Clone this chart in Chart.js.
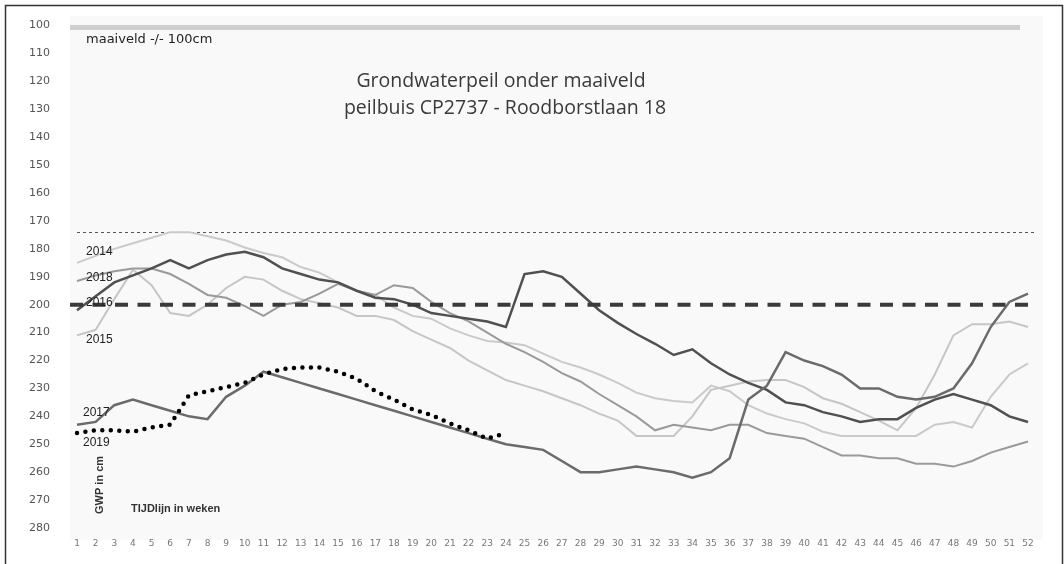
<!DOCTYPE html>
<html>
<head>
<meta charset="utf-8">
<script src="https://cdn.jsdelivr.net/npm/chart.js@4.4.1/dist/chart.umd.min.js"></script>
<style>
html,body{margin:0;padding:0;background:#fff;}
#wrap{width:1064px;height:564px;position:relative;}
</style>
</head>
<body>
<div id="wrap"><canvas id="myChart"></canvas></div>
<script>
const weeks = ['1','2','3','4','5','6','7','8','9','10','11','12','13','14','15','16','17','18','19','20',
  '21','22','23','24','25','26','27','28','29','30','31','32','33','34','35','36','37','38','39','40',
  '41','42','43','44','45','46','47','48','49','50','51','52'];

// grondwaterpeil in cm onder maaiveld, per week
const gwp2014 = [185,182.5,180,178,176,174,174,175.5,177,179.5,181.5,183,186.5,188.5,192,195,196.5,201,204,205,
  208.5,211,213,213.5,214.5,217.5,220.5,222.5,225,228,231.5,233.5,234.5,235,229,231,236,239,241,242.5,
  245.5,247,247,247,247,247,243,242,244,233,225,221];
const gwp2015 = [211,209,198,187.5,193,203,204,200,194,190,191,195,198,199.5,201,204,204,205.5,209.5,212.5,
  215.5,220,223.5,227,229,231,233.5,236,239,241.5,247,247,247,240,230.5,229,227.5,227,227,229.5,
  233.5,235.5,238.5,241.5,245,237,225,211,207,207,206,208];
const gwp2016 = [202,197,192,189.5,187,184,187,184,182,181,183,187,189,191,192,195,197.5,198,200,203,
  204,205,206,208,189,188,190,196,202,206.5,210.5,214,218,216,221,225,228,230.5,235,236,
  238.5,240,242,241,241,237,234,232,234,236,240,242];
const gwp2017 = [243,242,236,234,236,238,240,241,233,229,224,226,228,230,232,234,236,238,240,242,
  244,246,248,250,251,252,256,260,260,259,258,259,260,262,260,255,234,229,217,220,
  222,225,230,230,233,234,233,230,221,208,199,196];
const gwp2018 = [191.5,189.5,188,187,187,189,192.5,196.5,197.5,200.5,204,200,199,196,192.5,195,196.5,193,194,199,
  203,206,210,214,217,220.5,224.5,227.5,232,236,240,245,243,244,245,243,243,246,247,248,
  251,254,254,255,255,257,257,258,256,253,251,249];
const gwp2019 = [246,245,245,245.5,244,243,232.5,231,229.5,228,225,223,222.5,222.5,224,226.5,231,234,237.5,239.5,
  242.5,245,248,246];

const yearLabels = ['2014','2018','2016','2015','2017','2019'];
const yearLabelLevels = [181,190.4,199.3,212.5,238.6,249.3];

const maaiveld = 100;
const grensDun = 174;
const grensDik = 200;

const decor = {
  id: 'decor',
  beforeDraw(chart) {
    const c = chart.ctx, a = chart.chartArea;
    c.save();
    c.fillStyle = '#fff';
    c.fillRect(0, 0, chart.width, chart.height);
    c.fillStyle = '#f9f9f9';
    c.fillRect(a.left - 7, 16, a.right - a.left + 22, 524);
    c.strokeStyle = '#333';
    c.lineWidth = 1.5;
    c.strokeRect(5.5, 5.5, 1057, 700);
    c.restore();
  },
  beforeDatasetsDraw(chart) {
    const c = chart.ctx, a = chart.chartArea, y = chart.scales.y;
    c.save();
    // maaiveld
    let py = y.getPixelForValue(maaiveld) + 2;
    c.strokeStyle = '#cfcfcf';
    c.lineWidth = 5;
    c.beginPath(); c.moveTo(a.left - 7, py); c.lineTo(a.right - 8, py); c.stroke();
    // dunne stippellijn
    py = Math.round(y.getPixelForValue(grensDun)) + 0.5;
    c.strokeStyle = '#555';
    c.lineWidth = 1;
    c.setLineDash([3, 3]);
    c.beginPath(); c.moveTo(a.left, py); c.lineTo(a.right + 9, py); c.stroke();
    c.restore();
  },
  afterDatasetsDraw(chart) {
    const c = chart.ctx, a = chart.chartArea, y = chart.scales.y;
    c.save();
    const py = y.getPixelForValue(grensDik);
    c.strokeStyle = '#3a3a3a';
    c.lineWidth = 4;
    c.setLineDash([13, 9.5]);
    c.beginPath(); c.moveTo(a.left - 7, py); c.lineTo(a.right + 2, py); c.stroke();
    c.setLineDash([]);

    c.fillStyle = '#222';
    c.textBaseline = 'middle';
    c.font = '13px "DejaVu Sans"';
    c.fillText('maaiveld -/- 100cm', 86, 40);

    c.font = '12px "Liberation Sans"';
    yearLabels.forEach((t, i) => {
      c.fillText(t, i >= 4 ? 83 : 86, y.getPixelForValue(yearLabelLevels[i]));
    });

    c.fillStyle = '#3a3a3a';
    c.textAlign = 'center';
    c.font = '19.5px "Open Sans"';
    c.fillText('Grondwaterpeil onder maaiveld', 501, 81);
    c.fillText('peilbuis CP2737 - Roodborstlaan 18', 505, 108);

    c.fillStyle = '#333';
    c.textAlign = 'left';
    c.font = 'bold 11px "Liberation Sans"';
    c.fillText('TIJDlijn in weken', 131, 509);
    c.translate(100, 514);
    c.rotate(-Math.PI / 2);
    c.font = 'bold 11px "Liberation Sans"';
    c.fillText('GWP in cm', 0, 0);
    c.restore();
  }
};

function line(label, data, color, width) {
  return {
    label: label,
    data: data,
    borderColor: color,
    backgroundColor: color,
    borderWidth: width,
    pointRadius: 0,
    tension: 0,
    fill: false
  };
}

const dots = line('2019', gwp2019, '#000', 4.5);
dots.borderDash = [0, 8.5];
dots.borderCapStyle = 'round';

const ctx = document.getElementById('myChart').getContext('2d');
const myChart = new Chart(ctx, {
  type: 'line',
  data: {
    labels: weeks,
    datasets: [
      dots,
      line('2017', gwp2017, '#6b6b6b', 2.5),
      line('2016', gwp2016, '#505050', 2.5),
      line('2018', gwp2018, '#9a9a9a', 2),
      line('2015', gwp2015, '#c6c6c6', 2),
      line('2014', gwp2014, '#cacaca', 2)
    ]
  },
  options: {
    responsive: true,
    maintainAspectRatio: false,
    animation: false,
    layout: { padding: { left: 0, top: 24, right: 36, bottom: 0 } },
    plugins: {
      legend: { display: false },
      title: { display: false },
      tooltip: { enabled: false }
    },
    scales: {
      x: {
        offset: false,
        grid: { display: false },
        border: { display: false },
        ticks: {
          color: '#777',
          font: { family: 'DejaVu Sans', size: 9 },
          padding: 2,
          maxRotation: 0,
          autoSkip: false
        },
        afterFit(scale) { scale.height = 36; }
      },
      y: {
        reverse: true,
        min: 100,
        max: 280,
        grid: { display: false },
        border: { display: false },
        ticks: {
          stepSize: 10,
          color: '#555',
          font: { family: 'DejaVu Sans', size: 11 },
          padding: 19
        },
        afterFit(scale) { scale.width = 77; }
      }
    }
  },
  plugins: [decor]
});
</script>
</body>
</html>
